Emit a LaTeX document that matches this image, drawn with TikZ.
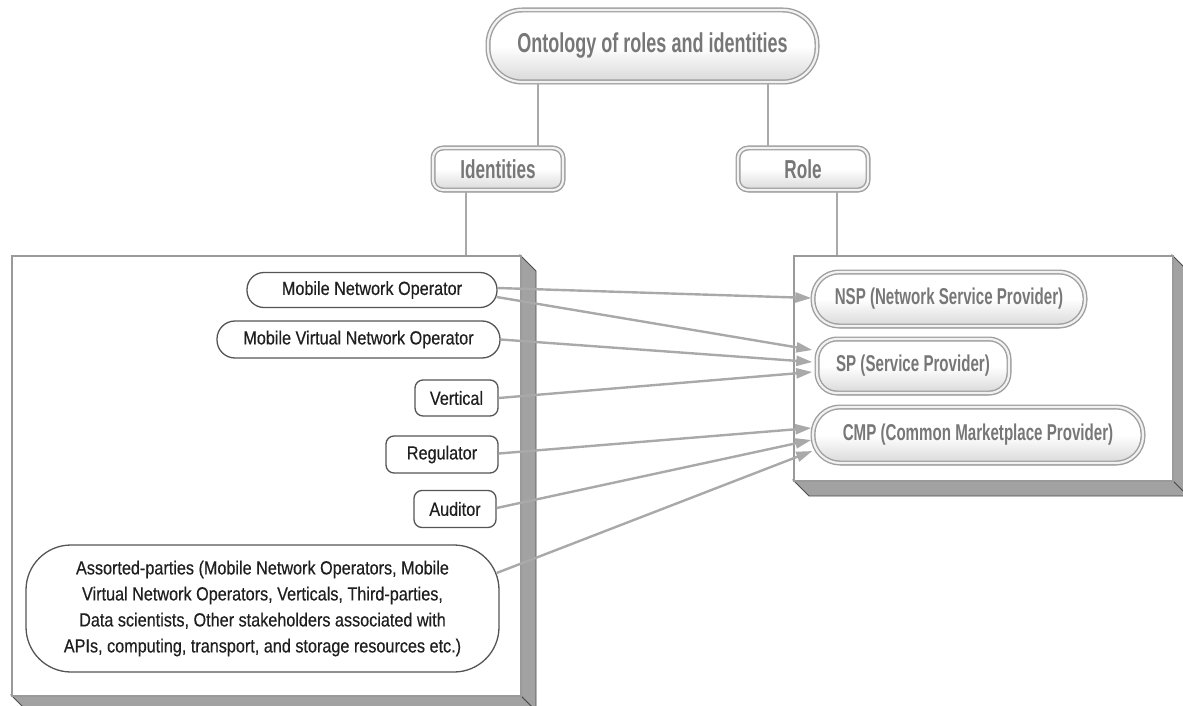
\documentclass[tikz,border=0pt]{standalone}
\usepackage{fontspec}
\setmainfont{Liberation Sans}[FakeStretch=0.853, FakeBold=0.35]
\newfontfamily\headfont{Liberation Sans}[FakeStretch=0.66]
\usetikzlibrary{arrows.meta,shadows}
\definecolor{linkgray}{HTML}{A9A9A9}
\definecolor{boxline}{HTML}{9A9A9A}
\definecolor{sidegray}{HTML}{A2A2A2}
\definecolor{headtext}{HTML}{777777}
\definecolor{leafline}{HTML}{555555}
\begin{document}
\begin{tikzpicture}[x=1pt,y=-1pt,
  link/.style={draw=linkgray, line width=2.4pt},
  arr/.style={link, -{Triangle[length=16pt,width=10pt]}},
  head/.style={draw=gray!75, double=gray!10, double distance=2.2pt, line width=1.4pt,
    top color=white, bottom color=gray!30, middle color=white, inner sep=0pt,
    text=headtext, drop shadow={shadow xshift=1pt, shadow yshift=-2.5pt, opacity=.3}},
  leaf/.style={draw=leafline, line width=1.3pt, fill=white, inner sep=0pt,
    font=\fontsize{19}{26}\selectfont, text=black!88},
  face/.style={draw=boxline, line width=1.5pt, fill=white, inner sep=0pt},
  side/.style={draw=gray!60!black, line width=0.8pt, fill=sidegray},
]
\useasboundingbox (0,0) rectangle (1183,706);
\clip (0,0) rectangle (1183,706);

% extruded panels
\draw[side] (520,255) -- (536,271) -- (536,711) -- (520,695) -- cycle;
\draw[side] (11,695) -- (27,711) -- (536,711) -- (520,695) -- cycle;
\node[face, anchor=north west, minimum width=509pt, minimum height=440pt] (idbox) at (11,255) {};

\draw[side] (1172,255) -- (1188,271) -- (1188,496) -- (1172,480) -- cycle;
\draw[side] (793,480) -- (809,496) -- (1188,496) -- (1172,480) -- cycle;
\node[face, anchor=north west, minimum width=379pt, minimum height=225pt] (rolebox) at (793,255) {};

% headings
\node[head, minimum width=329pt, minimum height=72pt, rounded corners=34pt,
  font=\headfont\bfseries\fontsize{27.3}{32}\selectfont] (title) at (652.5,46) {Ontology of roles and identities};
\node[head, minimum width=130pt, minimum height=42pt, rounded corners=10pt,
  font=\headfont\bfseries\fontsize{26}{30}\selectfont] (ident) at (498,169) {Identities};
\node[head, minimum width=130pt, minimum height=42pt, rounded corners=10pt,
  font=\headfont\bfseries\fontsize{26}{30}\selectfont] (role) at (803,169) {Role};

% roles
\node[head, minimum width=272pt, minimum height=54pt, rounded corners=26pt,
  font=\headfont\bfseries\fontsize{22.9}{27}\selectfont] (nsp) at (949,299) {NSP (Network Service Provider)};
\node[head, minimum width=192pt, minimum height=54pt, rounded corners=20pt,
  font=\headfont\bfseries\fontsize{22.9}{27}\selectfont] (sp) at (913,366) {SP (Service Provider)};
\node[head, minimum width=330pt, minimum height=56pt, rounded corners=27pt,
  font=\headfont\bfseries\fontsize{22.9}{27}\selectfont] (cmp) at (978,435) {CMP (Common Marketplace Provider)};

% identities
\node[leaf, minimum width=250pt, minimum height=35pt, rounded corners=17pt] (mno) at (372,290) {Mobile Network Operator};
\node[leaf, minimum width=283pt, minimum height=37pt, rounded corners=18pt] (mvno) at (358.5,339.5) {Mobile Virtual Network Operator};
\node[leaf, minimum width=83pt, minimum height=36pt, rounded corners=8pt] (vert) at (456.5,398) {Vertical};
\node[leaf, minimum width=112pt, minimum height=37pt, rounded corners=8pt] (reg) at (442,454.5) {Regulator};
\node[leaf, minimum width=82pt, minimum height=37pt, rounded corners=8pt] (aud) at (455,509) {Auditor};
\node[leaf, minimum width=473pt, minimum height=127pt, rounded corners=45pt, align=center] (asp) at (262.5,608.5)
  {Assorted-parties (Mobile Network Operators, Mobile\\
   Virtual Network Operators, Verticals, Third-parties,\\
   Data scientists, Other stakeholders associated with\\
   APIs, computing, transport, and storage resources etc.)};

% tree links
\draw[link] ([xshift=-114.5pt]title.south) -- ([xshift=-114.5pt]title.south |- ident.north);
\draw[link] ([xshift=115.5pt]title.south) -- ([xshift=115.5pt]title.south |- role.north);
\draw[link] ([xshift=-32pt]ident.south) -- ([xshift=-32pt]ident.south |- idbox.north);
\draw[link] ([xshift=34pt]role.south) -- ([xshift=34pt]role.south |- rolebox.north);

% identity-to-role arrows
\draw[arr] ([shift={(0,-2)}]mno.east) -- ([shift={(-1,-1)}]nsp.west);
\draw[arr] ([shift={(-1,7)}]mno.east) -- ([shift={(-4,-16)}]sp.west);
\draw[arr] (mvno.east) -- ([shift={(-4,-4)}]sp.west);
\draw[arr] (vert.east) -- ([shift={(-4,6)}]sp.west);
\draw[arr] ([shift={(0,-1)}]reg.east) -- ([shift={(-1,-7)}]cmp.west);
\draw[arr] ([shift={(0,-1)}]aud.east) -- ([shift={(-1,5)}]cmp.west);
\draw[arr] ([shift={(-3,-35.5)}]asp.east) -- ([shift={(0,16)}]cmp.west);
\end{tikzpicture}
\end{document}
